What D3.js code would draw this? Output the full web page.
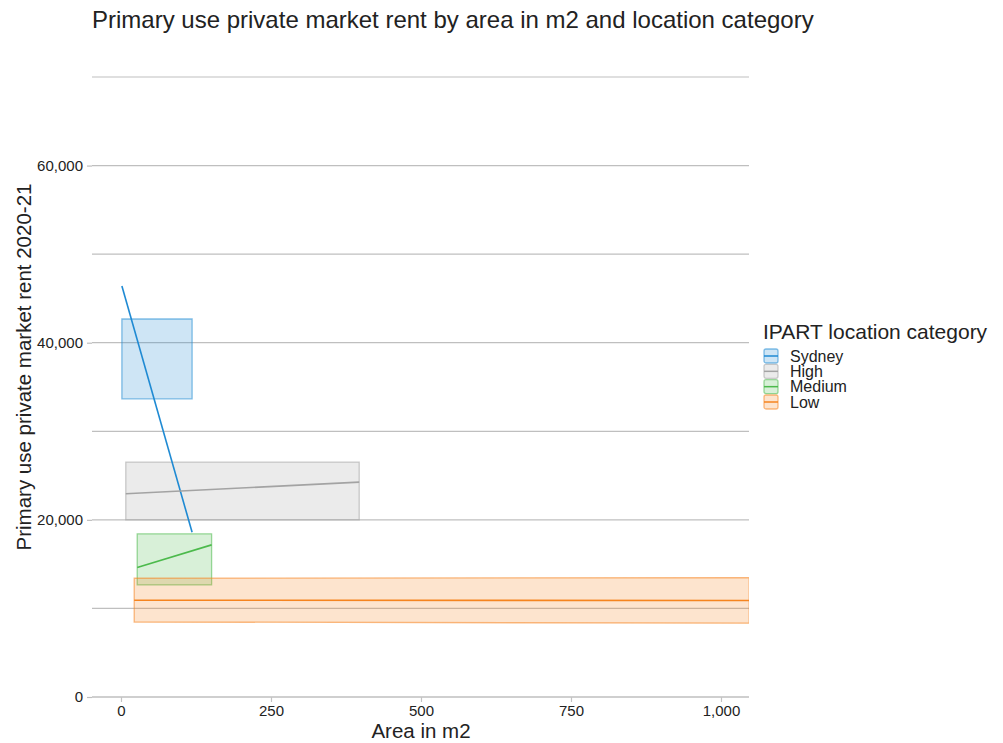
<!DOCTYPE html>
<html>
<head>
<meta charset="utf-8">
<script src="https://cdn.jsdelivr.net/npm/d3@7"></script>
<style>
  html, body { margin: 0; padding: 0; background: #fff; }
  svg { display: block; font-family: "Liberation Sans", Arial, sans-serif; }
</style>
</head>
<body>
<svg id="chart" width="1003" height="743"></svg>
<script>
// Location categories and their fitted rent lines with confidence bands
const categories = ["Sydney", "High", "Medium", "Low"];
const colors = ["#1f8ad3", "#a3a3a3", "#4cba4c", "#f5841f"];
const areaStart = [1.5, 8, 27, 22];
const areaEnd = [118.5, 397, 151, 1047];
const fitStart = [46400, 22940, 14610, 10930];
const fitEnd = [18600, 24260, 17175, 10900];
const lowerStart = [33670, 20000, 12650, 8470];
const lowerEnd = [33670, 20000, 12650, 8330];
const upperStart = [42680, 26520, 18420, 13410];
const upperEnd = [42680, 26520, 18420, 13480];

// Axis ticks
const xTicks = [0, 250, 500, 750, 1000];
const yTicks = [0, 20000, 40000, 60000];
const yMinorTicks = [10000, 30000, 50000, 70000];

const title = "Primary use private market rent by area in m2 and location category";
const xTitle = "Area in m2";
const yTitle = "Primary use private market rent 2020-21";
const legendTitle = "IPART location category";

const svg = d3.select("#chart");
const plot = { left: 92, right: 749, top: 77, bottom: 697 };

const x = d3.scaleLinear().domain([-48.33, 1046.67]).range([plot.left, plot.right]);
const y = d3.scaleLinear().domain([0, 70000]).range([plot.bottom, plot.top]);
const fmt = d3.format(",");

svg.append("defs").append("clipPath").attr("id", "plotClip")
  .append("rect")
  .attr("x", plot.left).attr("y", plot.top - 20)
  .attr("width", plot.right - plot.left).attr("height", plot.bottom - plot.top + 20);

// Gridlines
svg.append("g").selectAll("line")
  .data(yTicks.concat(yMinorTicks))
  .join("line")
  .attr("x1", plot.left).attr("x2", plot.right)
  .attr("y1", d => y(d)).attr("y2", d => y(d))
  .attr("stroke", "#bfbfbf").attr("stroke-width", 1.2);

// Y axis: ticks and labels only
const yAxis = d3.axisLeft(y).tickValues(yTicks).tickFormat(fmt).tickSize(5).tickPadding(4);
const gy = svg.append("g").attr("transform", `translate(${plot.left},0)`).call(yAxis);
gy.select(".domain").remove();
gy.selectAll(".tick line").attr("stroke", "#bfbfbf").attr("stroke-width", 1.2);
gy.selectAll(".tick text").attr("fill", "#222").style("font-size", "15px")
  .style("font-family", "'Liberation Sans', Arial, sans-serif");

// X axis
const xAxis = d3.axisBottom(x).tickValues(xTicks).tickFormat(fmt).tickSize(5).tickPadding(3);
const gx = svg.append("g").attr("transform", `translate(0,${plot.bottom})`).call(xAxis);
gx.select(".domain").attr("stroke", "#cfcfcf").attr("stroke-width", 2)
  .attr("d", `M${plot.left},0H${plot.right}`);
gx.selectAll(".tick line").attr("stroke", "#c4c4c4").attr("stroke-width", 1.2);
gx.selectAll(".tick text").attr("fill", "#222").style("font-size", "15px")
  .style("font-family", "'Liberation Sans', Arial, sans-serif");

// Confidence bands
const bands = categories.map((c, i) => ({
  name: c, color: colors[i],
  pts: [
    { a: areaStart[i], lo: lowerStart[i], hi: upperStart[i], fit: fitStart[i] },
    { a: areaEnd[i], lo: lowerEnd[i], hi: upperEnd[i], fit: fitEnd[i] }
  ]
}));

const area = d3.area().x(d => x(d.a)).y0(d => y(d.lo)).y1(d => y(d.hi));
const line = d3.line().x(d => x(d.a)).y(d => y(d.fit));

const gPlot = svg.append("g").attr("clip-path", "url(#plotClip)");

gPlot.selectAll("path.band")
  .data(bands)
  .join("path")
  .attr("class", "band")
  .attr("d", d => area(d.pts))
  .attr("fill", d => d.color).attr("fill-opacity", 0.22)
  .attr("stroke", d => d.color).attr("stroke-opacity", 0.55).attr("stroke-width", 1.3);

gPlot.selectAll("path.fit")
  .data(bands)
  .join("path")
  .attr("class", "fit")
  .attr("d", d => line(d.pts))
  .attr("fill", "none")
  .attr("stroke", d => d.color).attr("stroke-width", 1.6);

// Titles
svg.append("text").attr("x", 92).attr("y", 28)
  .attr("fill", "#222").style("font-size", "24px").text(title);

svg.append("text").attr("x", 421).attr("y", 738)
  .attr("text-anchor", "middle").attr("fill", "#222").style("font-size", "20.5px").text(xTitle);

svg.append("text")
  .attr("transform", "translate(31,367) rotate(-90)")
  .attr("text-anchor", "middle").attr("fill", "#222").style("font-size", "20.5px").text(yTitle);

// Legend
const legend = svg.append("g").attr("transform", "translate(763,0)");
legend.append("text").attr("x", 0).attr("y", 339)
  .attr("fill", "#222").style("font-size", "21px").text(legendTitle);

const rowY = d3.scalePoint().domain(categories).range([356, 402]);
const item = legend.selectAll("g.item").data(bands).join("g")
  .attr("class", "item")
  .attr("transform", d => `translate(0,${rowY(d.name)})`);
item.append("rect")
  .attr("x", 1).attr("y", -7).attr("width", 14).attr("height", 14).attr("rx", 2)
  .attr("fill", d => d.color).attr("fill-opacity", 0.22)
  .attr("stroke", d => d.color).attr("stroke-opacity", 0.55).attr("stroke-width", 1.3);
item.append("line")
  .attr("x1", 1).attr("x2", 15).attr("y1", 0).attr("y2", 0)
  .attr("stroke", d => d.color).attr("stroke-width", 1.5);
item.append("text")
  .attr("x", 27).attr("y", 5.5)
  .attr("fill", "#222").style("font-size", "16px").text(d => d.name);
</script>
</body>
</html>
